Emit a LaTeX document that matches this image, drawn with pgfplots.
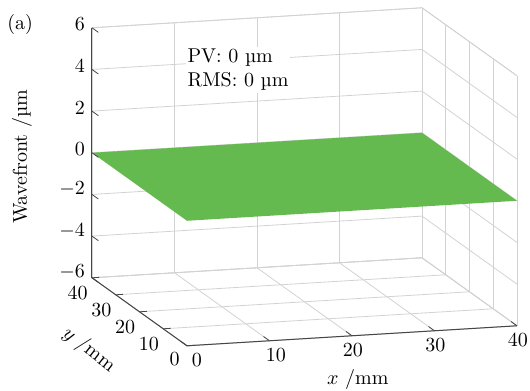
\documentclass[border=0pt]{standalone}
\usepackage{pgfplots}
\pgfplotsset{compat=1.18}
\definecolor{mygreen}{RGB}{100,186,78}
\definecolor{gridc}{RGB}{210,210,210}
\definecolor{axc}{RGB}{70,70,70}
\begin{document}
\begin{tikzpicture}
\begin{axis}[
  x={(4.125pt,0.25pt)}, y={(-1.1875pt,0.85pt)}, z={(0pt,10.4167pt)},
  xmin=0, xmax=40, ymin=0, ymax=40, zmin=-6, zmax=6,
  xtick={0,10,...,40}, ytick={0,10,...,40}, ztick={-6,-4,...,6},
  xticklabel={\pgfmathparse{\tick<5 ? 10 : (\tick<15 ? 6.5 : 1)}\hspace*{\pgfmathresult pt}\pgfmathprintnumber{\tick}},
  xticklabel style={anchor=center, yshift=-7.3pt},
  grid=major,
  major grid style={gridc, line width=0.4pt},
  axis line style={gridc, line width=0.4pt},
  major tick length=0pt,
  clip=false,
]
\coordinate (bbA) at (axis cs:-11.15,40,7.6);
\coordinate (bbB) at (axis cs:41.58,0,-9.16);
\addplot3[draw=none, fill=mygreen] coordinates {(0,0,0) (40,0,0) (40,40,0) (0,40,0)};
\draw[axc, line width=0.5pt] (axis cs:0,40,-6) -- (axis cs:0,40,6);
\draw[axc, line width=0.5pt] (axis cs:0,40,-6) -- (axis cs:0,0,-6) -- (axis cs:40,0,-6);
\pgfplotsinvokeforeach{-6,-4,-2,0,2,4,6}{\draw[axc, line width=0.4pt] (axis cs:0,40,#1) -- (axis cs:0,37.3,#1);}
\pgfplotsinvokeforeach{0,10,20,30,40}{\draw[axc, line width=0.4pt] (axis cs:0,#1,-6) -- (axis cs:0.9,#1,-6);}
\pgfplotsinvokeforeach{0,10,20,30,40}{\draw[axc, line width=0.4pt] (axis cs:#1,0,-6) -- (axis cs:#1,2.5,-6);}
\node[fill=white, anchor=west, align=left, inner sep=1pt] at (axis cs:11.3,40,3.7) {PV: 0 \textmu m\\RMS: 0 \textmu m};
\node at (axis cs:20.7,0,-8.1) {$x$ /mm};
\node[rotate=-38] at (axis cs:-6.12,20,-7.68) {$y$ /mm};
\node[rotate=90] at (axis cs:-8.5,40,0) {Wavefront /\textmu m};
\node at (axis cs:-8.7,40,6.35) {(a)};
\end{axis}
\pgfresetboundingbox
\path[use as bounding box] (bbA) rectangle (bbB);
\end{tikzpicture}
\end{document}
